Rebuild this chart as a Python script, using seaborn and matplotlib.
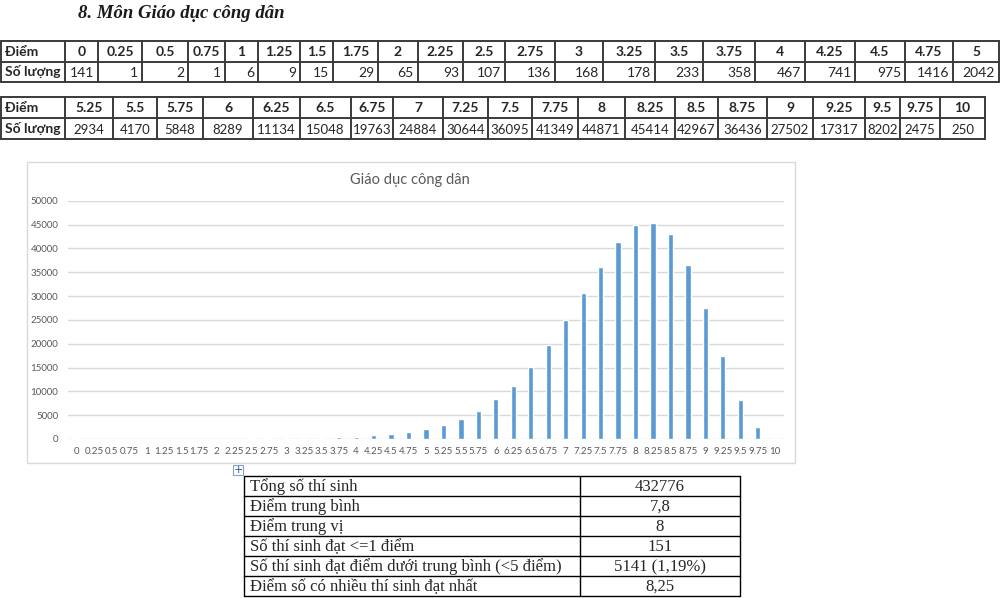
import matplotlib
matplotlib.use("Agg")
import matplotlib.pyplot as plt
import numpy as np
import pandas as pd
import seaborn as sns
from matplotlib.patches import Rectangle

# data
score_labels = ["0", "0.25", "0.5", "0.75", "1", "1.25", "1.5", "1.75", "2", "2.25", "2.5",
                "2.75", "3", "3.25", "3.5", "3.75", "4", "4.25", "4.5", "4.75", "5",
                "5.25", "5.5", "5.75", "6", "6.25", "6.5", "6.75", "7", "7.25", "7.5",
                "7.75", "8", "8.25", "8.5", "8.75", "9", "9.25", "9.5", "9.75", "10"]
counts = [141, 1, 2, 1, 6, 9, 15, 29, 65, 93, 107, 136, 168, 178, 233, 358, 467, 741, 975, 1416, 2042,
          2934, 4170, 5848, 8289, 11134, 15048, 19763, 24884, 30644, 36095, 41349, 44871, 45414,
          42967, 36436, 27502, 17317, 8202, 2475, 250]
summary_labels = ["Tổng số thí sinh", "Điểm trung bình", "Điểm trung vị", "Số thí sinh đạt <=1 điểm",
                  "Số thí sinh đạt điểm dưới trung bình (<5 điểm)", "Điểm số có nhiều thí sinh đạt nhất"]
summary_values = ["432776", "7,8", "8", "151", "5141 (1,19%)", "8,25"]

page_title = "8. Môn Giáo dục công dân"
chart_title = "Giáo dục công dân"
row_head = ["Điểm", "Số lượng"]

df = pd.DataFrame({"score": score_labels, "count": counts})

sns.set_style("white")
plt.rcParams["font.family"] = ["Lato", "DejaVu Sans"]

W, H = 1000, 598
fig = plt.figure(figsize=(10, 5.98), dpi=100)
bg = fig.add_axes([0, 0, 1, 1])
bg.set_xlim(0, W)
bg.set_ylim(H, 0)
bg.axis("off")

bg.text(78, 13, page_title, fontsize=13.5, fontweight="bold", fontstyle="italic",
        family="Liberation Serif", va="center", ha="left", color="#1a1a1a")

line_col = "#3a3a3a"


def draw_score_table(edges, y0, y1, y2, labels, vals, align):
    # header row + values row
    for y in (y0, y1, y2):
        bg.plot([edges[0], edges[-1]], [y, y], color=line_col, lw=1.4)
    for e in edges:
        bg.plot([e, e], [y0, y2], color=line_col, lw=1.4)
    bg.text(edges[0] + 4, (y0 + y1) / 2, row_head[0], fontsize=10, fontweight="bold",
            va="center", ha="left")
    bg.text(edges[0] + 4, (y1 + y2) / 2, row_head[1], fontsize=10, fontweight="bold",
            va="center", ha="left")
    for i, (lab, v) in enumerate(zip(labels, vals)):
        l, r = edges[i + 1], edges[i + 2]
        bg.text((l + r) / 2, (y0 + y1) / 2, lab, fontsize=10, fontweight="bold",
                va="center", ha="center")
        if align == "right":
            bg.text(r - 4, (y1 + y2) / 2 + 1, str(v), fontsize=10, va="center", ha="right")
        else:
            bg.text((l + r) / 2, (y1 + y2) / 2 + 1, str(v), fontsize=9.5, va="center", ha="center")


edges1 = [1, 65, 98, 142, 188, 225, 258, 300, 333, 378, 418, 463, 505, 555, 603, 655, 703,
          755, 805, 855, 905, 953, 999]
edges2 = [1, 65, 113, 157, 203, 253, 300, 351, 393, 443, 488, 532, 578, 625, 675, 718, 767,
          813, 865, 900, 940, 985]
draw_score_table(edges1, 41, 62, 82, score_labels[:21], counts[:21], "right")
draw_score_table(edges2, 97, 118, 139, score_labels[21:], counts[21:], "center")

# chart frame
bg.add_patch(Rectangle((27, 162), 768, 301, fill=False, edgecolor="#d9d9d9", lw=1))
fig.text(410 / W, 1 - 180 / H, chart_title, fontsize=10.5, color="#595959",
         ha="center", va="center")

ax = fig.add_axes([68 / W, 1 - 439 / H, (784 - 68) / W, (439 - 200.7) / H])
sns.barplot(data=df, x="score", y="count", order=score_labels, color="#5b9bd5",
            saturation=1, width=0.3, ax=ax, zorder=3)
ax.set_xlim(-0.5, len(score_labels) - 0.5)
ax.set_ylim(0, 50000)
ax.set_yticks(np.arange(0, 50001, 5000))
ax.yaxis.grid(True, color="#d9d9d9", lw=1, zorder=0)
ax.set_axisbelow(True)
for s in ax.spines.values():
    s.set_visible(False)
ax.tick_params(axis="both", length=0, labelsize=7, labelcolor="#595959")
ax.tick_params(axis="y", pad=7)
ax.tick_params(axis="x", pad=6)
ax.set_xlabel("")
ax.set_ylabel("")
ax.patch.set_alpha(0)

# small anchor icon
bg.add_patch(Rectangle((233, 465), 10, 10, fill=False, edgecolor="#8aa0c8", lw=0.8))
bg.text(238, 470, "+", fontsize=8, color="#2b4f9e", ha="center", va="center", family="DejaVu Sans")

# summary table
sx = [244, 580, 740]
sy = [476 + 20 * i for i in range(len(summary_labels) + 1)]
for y in sy:
    bg.plot([sx[0], sx[-1]], [y, y], color="black", lw=1)
for x in sx:
    bg.plot([x, x], [sy[0], sy[-1]], color="black", lw=1)
for i, (lab, v) in enumerate(zip(summary_labels, summary_values)):
    yc = (sy[i] + sy[i + 1]) / 2 + 1
    bg.text(sx[0] + 6, yc, lab, fontsize=12, family="Liberation Serif", ha="left", va="center")
    bg.text((sx[1] + sx[2]) / 2, yc, v, fontsize=12, family="Liberation Serif", ha="center", va="center")

fig.savefig("out.png", dpi=100, facecolor="white")
